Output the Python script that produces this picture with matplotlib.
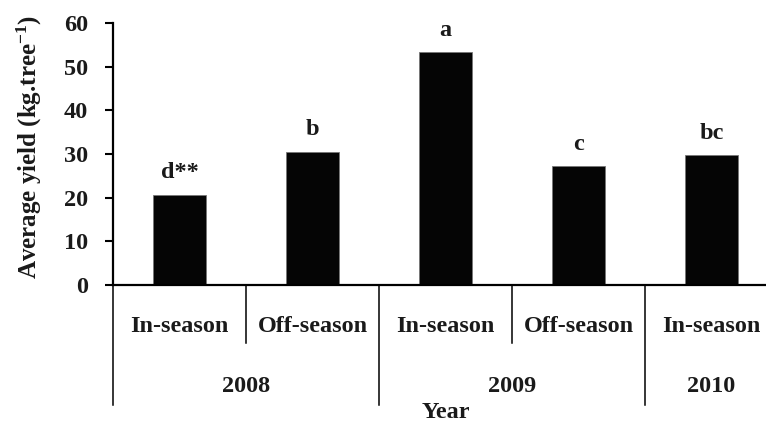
import matplotlib
matplotlib.use("Agg")
import matplotlib.pyplot as plt

# Yield data
seasons = ["In-season", "Off-season", "In-season", "Off-season", "In-season"]
years = ["2008", "2009", "2010"]
year_spans = [(0, 1), (2, 3), (4, 4)]
yields = [20.6, 30.5, 53.3, 27.2, 29.7]
letters = ["d**", "b", "a", "c", "bc"]
yticks = [0, 10, 20, 30, 40, 50, 60]

plt.rcParams["font.family"] = "Liberation Serif"
plt.rcParams["font.weight"] = "bold"
plt.rcParams["mathtext.default"] = "regular"

FS = 17.5
TXT = "#1a1a1a"

W, H = 766, 425
fig = plt.figure(figsize=(W / 100, H / 100), dpi=100)

# axes geometry in pixels
x0, x1 = 113, 778
ytop, ybot = 23, 285
ax = fig.add_axes([x0 / W, (H - ybot) / H, (x1 - x0) / W, (ybot - ytop) / H])
ax_h = ybot - ytop

x = list(range(len(yields)))
ax.bar(x, yields, width=0.4, color="#050505", edgecolor="#777777", linewidth=0.6, zorder=2)

for xi, v, lab in zip(x, yields, letters):
    ax.annotate(lab, (xi, v), xytext=(0, 12), textcoords="offset points",
                ha="center", va="baseline", fontsize=FS, fontweight="bold", color=TXT)

ax.set_xlim(-0.5, len(yields) - 0.5)
ax.set_ylim(0, 60)
ax.set_yticks(yticks)
ax.set_xticks([])
ax.tick_params(axis="y", direction="out", length=6, width=1.5, pad=12, labelsize=FS,
               colors="black", labelcolor=TXT)
for lbl in ax.get_yticklabels():
    lbl.set_fontweight("bold")

for s in ["top", "right"]:
    ax.spines[s].set_visible(False)
ax.spines["left"].set_linewidth(1.6)
ax.spines["bottom"].set_linewidth(1.6)

tr = ax.get_xaxis_transform()

def fy(px):
    return -px / ax_h

# separators between seasons within a year, and between years
for i in range(len(yields) + 1):
    xb = i - 0.5
    start_year = any(xb == a - 0.5 for a, _ in year_spans)
    depth = 120 if start_year else 58
    ax.plot([xb, xb], [0, fy(depth)], transform=tr, color="black", lw=1.1, clip_on=False)

for xi, s in zip(x, seasons):
    ax.text(xi, fy(41), s, transform=tr, ha="center", va="center", fontsize=FS,
            fontweight="bold", color=TXT)

for yr, (a, b) in zip(years, year_spans):
    ax.text((a + b) / 2, fy(101), yr, transform=tr, ha="center", va="center", fontsize=FS,
            fontweight="bold", color=TXT)

fig.text((x0 + x1) / 2 / W, 1 - 412 / H, "Year", ha="center", va="center", fontsize=FS,
         fontweight="bold", color=TXT)

# y-axis title
fig.text(29 / W, 1 - 147 / H, "Average yield (kg.tree$^{-1}$)", rotation=90,
         ha="center", va="center", fontsize=18, fontweight="bold", color=TXT)

fig.savefig("out.png", dpi=100)
